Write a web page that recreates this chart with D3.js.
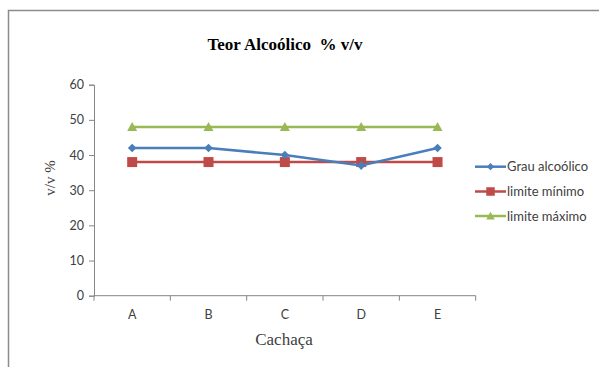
<!DOCTYPE html>
<html><head><meta charset="utf-8">
<script src="https://cdn.jsdelivr.net/npm/d3@7"></script>
<style>body{margin:0;background:#fff}svg{display:block}
.serif{font-family:"Times New Roman","Liberation Serif",serif}
.sans{font-family:Lato,"Open Sans",sans-serif}</style>
</head><body>
<script>
const categories = ["A","B","C","D","E"];
const grauAlcoolico = [42,42,40,37,42];
const limiteMinimo = [38,38,38,38,38];
const limiteMaximo = [48,48,48,48,48];
const yTicks = [0,10,20,30,40,50,60];
const seriesNames = ["Grau alcoólico","limite mínimo","limite máximo"];
const seriesColors = ["#4A7EBB","#BE4B48","#98B954"];

const W=599,H=367;
const svg=d3.select("body").append("svg").attr("width",W).attr("height",H);
svg.append("path").attr("d","M8.5,367 L8.5,10.5 L599,10.5").attr("fill","none").attr("stroke","#8c8c8c").attr("stroke-width",1.5);

const x=d3.scaleBand().domain(categories).range([94,475.7]);
const y=d3.scaleLinear().domain([0,60]).range([295.7,84.7]);

const yAxis=d3.axisLeft(y).tickValues(yTicks).tickSize(5).tickPadding(5);
const gy=svg.append("g").attr("transform","translate(94,0)").call(yAxis);
const xAxis=d3.axisBottom(x).tickSize(0).tickPadding(14);
const gx=svg.append("g").attr("transform","translate(0,295.7)").call(xAxis);
const bounds=categories.map(c=>x(c)).concat([x.range()[1]]);
gx.selectAll(".bt").data(bounds).enter().append("line").attr("x1",d=>d).attr("x2",d=>d).attr("y1",0).attr("y2",5);
[gx,gy].forEach(g=>{
  g.attr("font-family",null).attr("font-size",null);
  g.selectAll("path.domain").attr("stroke","#868686");
  g.selectAll("line").attr("stroke","#868686");
  g.selectAll("text").attr("fill","#404040").attr("class","sans").style("font-size","12.5px");
});
gx.select("path.domain").attr("d","M94,0H475.7");

const allSeries=[grauAlcoolico,limiteMinimo,limiteMaximo];
const line=d3.line().x((d,i)=>x(categories[i])+x.bandwidth()/2).y(d=>y(d));
function marker(k,s){
  if(k===0){const r=4.3*s;return `M0,${-r}L${r},0L0,${r}L${-r},0Z`;}
  if(k===1){const r=5*s;return `M${-r},${-r}H${r}V${r}H${-r}Z`;}
  const r=5*s;return `M0,${-r}L${r},${r*0.8}L${-r},${r*0.8}Z`;
}
[2,1,0].forEach(k=>{
  const g=svg.append("g");
  g.append("path").attr("d",line(allSeries[k])).attr("fill","none").attr("stroke",seriesColors[k]).attr("stroke-width",2.5);
  g.selectAll("path.m").data(allSeries[k]).enter().append("path").attr("class","m")
    .attr("d",marker(k,1))
    .attr("transform",(d,i)=>`translate(${x(categories[i])+x.bandwidth()/2},${y(d)})`)
    .attr("fill",seriesColors[k]);
});

const legY=[166.7,191.5,216];
seriesNames.forEach((n,k)=>{
  const g=svg.append("g");
  g.append("line").attr("x1",475).attr("x2",506).attr("y1",legY[k]).attr("y2",legY[k]).attr("stroke",seriesColors[k]).attr("stroke-width",2.5);
  g.append("path").attr("d",marker(k,0.85)).attr("transform",`translate(490.5,${legY[k]})`).attr("fill",seriesColors[k]);
  g.append("text").attr("x",507).attr("y",legY[k]+4.5).text(n).attr("fill","#404040").attr("class","sans").style("font-size","13px");
});

svg.append("text").attr("class","serif").attr("x",285).attr("y",50).attr("text-anchor","middle").text("Teor Alcoólico  % v/v")
  .style("font-weight","bold").style("font-size","17px").attr("fill","#000").style("white-space","pre");
svg.append("text").attr("class","serif").attr("x",284).attr("y",345).attr("text-anchor","middle").text("Cachaça")
  .style("font-size","17px").attr("fill","#404040");
svg.append("text").attr("class","serif").attr("transform","translate(55,178) rotate(-90)").attr("text-anchor","middle").text("v/v %")
  .style("font-size","15px").attr("fill","#404040");
</script>
</body></html>
